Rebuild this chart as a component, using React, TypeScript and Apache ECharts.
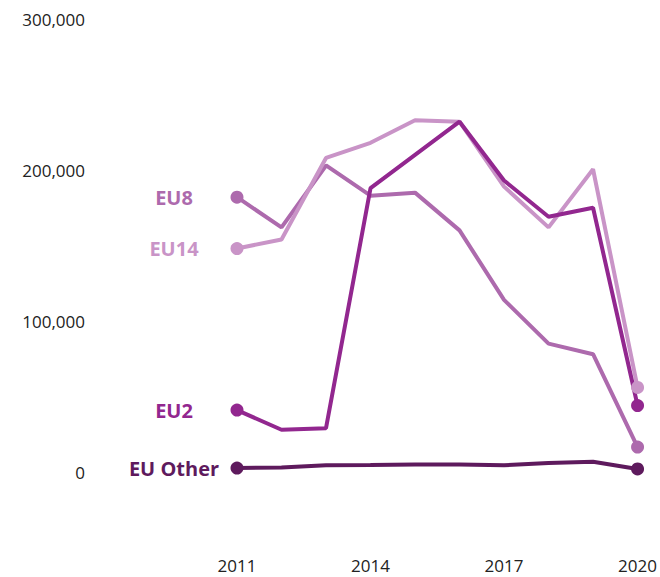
import React, { useEffect, useRef } from "react";
import * as echarts from "echarts";

const years = ["2011", "2012", "2013", "2014", "2015", "2016", "2017", "2018", "2019", "2020"];
const eu8 = [182000, 162000, 203000, 183000, 185000, 160000, 114000, 85000, 78000, 16500];
const eu14 = [148000, 154000, 208000, 218000, 233000, 232000, 189000, 162000, 200500, 56000];
const eu2 = [41000, 28000, 29000, 188000, 210000, 232000, 193000, 169000, 175000, 44000];
const euOther = [2600, 3000, 4500, 4600, 5000, 5000, 4500, 6000, 6800, 2000];

const seriesDefs = [
  { name: "EU8", data: eu8, color: "#ad6aad" },
  { name: "EU14", data: eu14, color: "#c994c7" },
  { name: "EU2", data: eu2, color: "#92278f" },
  { name: "EU Other", data: euOther, color: "#5e1a5d" },
];

const FONT = "'Open Sans', 'Noto Sans', sans-serif";

export default function App() {
  const ref = useRef<HTMLDivElement>(null);
  useEffect(() => {
    if (!ref.current) return;
    const chart = echarts.init(ref.current, undefined, { renderer: "svg" });
    const series = seriesDefs.map((s) => ({
      name: s.name,
      type: "line",
      showSymbol: true,
      showAllSymbol: true,
      symbol: "circle",
      symbolSize: (_v: any, p: any) => (p.dataIndex === 0 || p.dataIndex === s.data.length - 1 ? 13 : 0),
      lineStyle: { color: s.color, width: 4 },
      itemStyle: { color: s.color },
      emphasis: { disabled: true },
      data: s.data.map((v, i) =>
        i === 0
          ? {
              value: v,
              label: {
                show: true,
                position: "inside",
                offset: [-63, 0],
                align: "center",
                verticalAlign: "middle",
                formatter: s.name,
                color: s.color,
                fontFamily: FONT,
                fontWeight: "bold",
                fontSize: 20,
              },
            }
          : v
      ),
    }));
    chart.setOption({
      animation: false,
      grid: { left: 237, right: 22, top: 19, bottom: 29.5, containLabel: false },
      xAxis: {
        type: "category",
        data: years,
        boundaryGap: false,
        axisLine: { show: false },
        axisTick: { show: false },
        splitLine: { show: false },
        axisLabel: { interval: 2, margin: 10, color: "#222", fontFamily: FONT, fontSize: 17, lineHeight: 16 },
      },
      yAxis: {
        type: "value",
        min: -50000,
        max: 300000,
        interval: 50000,
        axisLine: { show: false },
        axisTick: { show: false },
        splitLine: { show: false },
        axisLabel: {
          margin: 152,
          color: "#222",
          fontFamily: FONT,
          fontSize: 17,
          formatter: (v: number) => (v % 100000 === 0 && v >= 0 ? v.toLocaleString("en-US") : ""),
        },
      },
      series,
    });
    return () => chart.dispose();
  }, []);
  return <div ref={ref} style={{ width: 660, height: 577, position: "absolute", left: 0, top: 0 }} />;
}
